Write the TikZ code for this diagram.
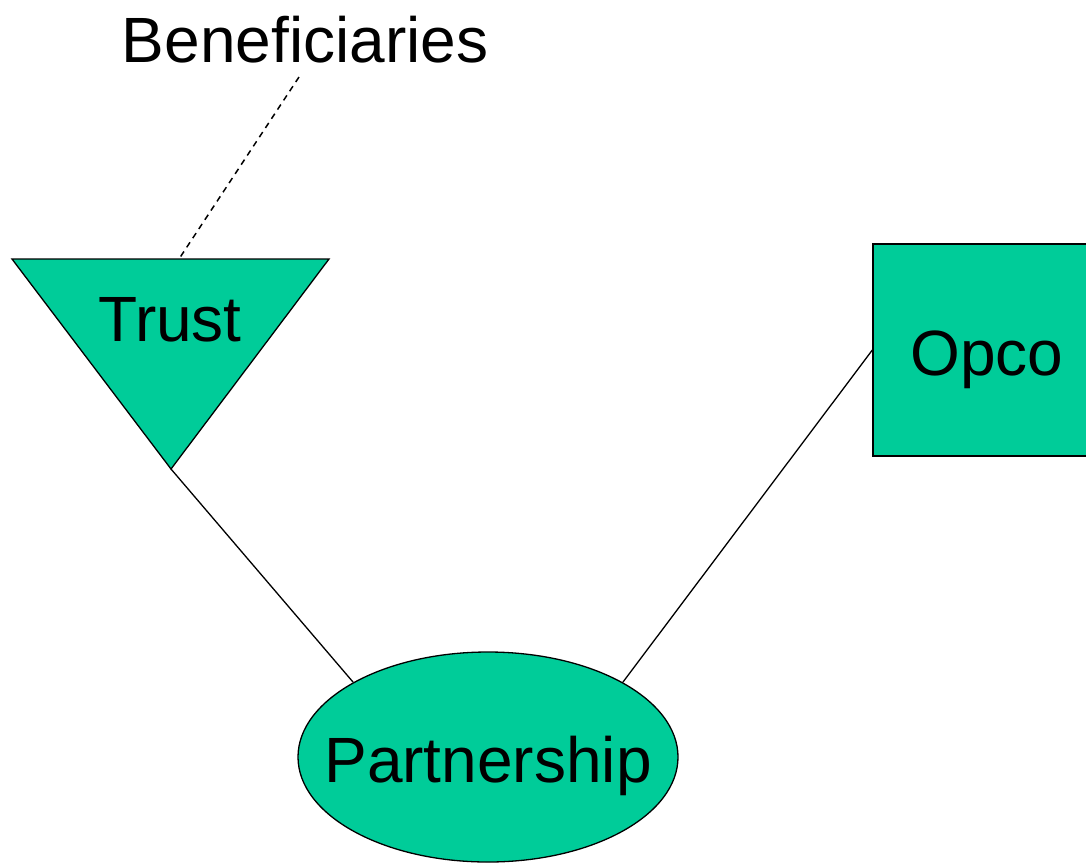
\documentclass[tikz,border=0pt]{standalone}
\usepackage{fontspec}
\setmainfont{Liberation Sans}
\usetikzlibrary{shapes.geometric}
\definecolor{boxgreen}{HTML}{00CC99}
\begin{document}
\begin{tikzpicture}[x=1pt,y=-1pt,
  shapestyle/.style={draw=black,fill=boxgreen,line width=1.3pt},
  lbl/.style={inner sep=0pt,anchor=base,font=\fontsize{64}{76}\selectfont},
  conn/.style={draw=black,line width=1.3pt},
  dashconn/.style={draw=black,line width=1.5pt,dash pattern=on 6pt off 5pt}]
\clip (0,0) rectangle (1086,863);
\fill[white] (0,0) rectangle (1086,863);
% Trust triangle
\coordinate (tl) at (12,259);
\coordinate (tr) at (329,259);
\coordinate (tb) at (171,469);
\coordinate (ttop) at (179,259);
\path[shapestyle,line join=miter] (tl) -- (tr) -- (tb) -- cycle;
\node[lbl] (trust) at (170,341) {Trust};
% Opco rectangle
\node[shapestyle,rectangle,minimum width=228pt,minimum height=212pt,inner sep=0pt] (opco) at (987,350) {};
\node[lbl] (opcot) at (987,375) {Opco};
% Partnership ellipse
\node[shapestyle,ellipse,minimum width=380pt,minimum height=210pt,inner sep=0pt] (part) at (488,757) {};
\node[lbl] (partt) at (488,782) {Partnership};
% Beneficiaries
\node[lbl] (ben) at (305,62) {Beneficiaries};
\coordinate (bend) at (299,77);
% connectors
\draw[dashconn] (bend) -- (ttop);
\draw[conn] (tb) -- (part.151);
\draw[conn] (opco.west) -- (part.29);
\end{tikzpicture}
\end{document}
